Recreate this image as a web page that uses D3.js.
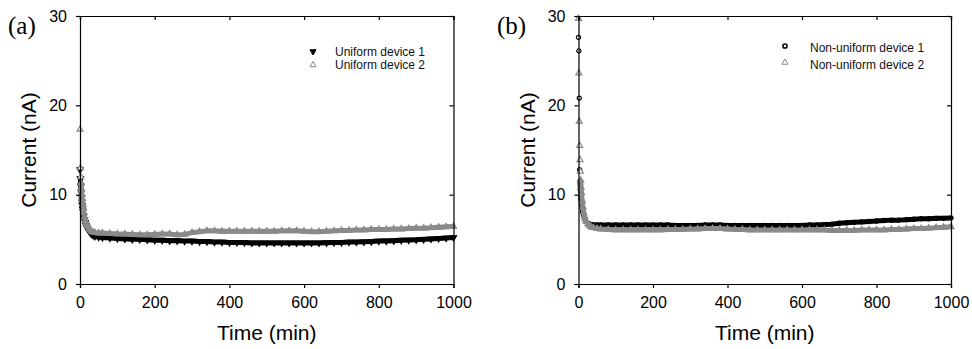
<!DOCTYPE html>
<html>
<head>
<meta charset="utf-8">
<script src="https://cdn.jsdelivr.net/npm/d3@7"></script>
<style>
  body { margin: 0; background: #fff; }
  svg { display: block; }
  text { font-family: "Liberation Sans", Arial, sans-serif; }
  .tick text { font-size: 16px; fill: #000; }
  .axisText { font-size: 21px; fill: #000; }
  text.panelText { font-family: "Liberation Serif", "Times New Roman", serif; font-size: 25px; }
  .legend-texts { font-size: 12px; fill: #111; }
</style>
</head>
<body>
<div id="svg-container"></div>
<script>
// data
const times = [0, 1, 2, 3, 4, 5, 6, 7, 8, 10, 12, 14, 16, 18, 20, 25, 30, 35, 40, 50, 60, 80,
  100, 120, 140, 160, 180, 200, 220, 240, 260, 280, 300, 320, 340, 360, 380, 400, 420, 440,
  460, 480, 500, 520, 540, 560, 580, 600, 620, 640, 660, 680, 700, 720, 740, 760, 780, 800,
  820, 840, 860, 880, 900, 920, 940, 960, 980, 1000];

const uniform1 = [12.8, 11.8, 11.0, 10.3, 9.7, 9.2, 8.8, 8.4, 8.1, 7.6, 7.2, 6.9, 6.6, 6.4, 6.2, 5.9, 5.6, 5.45, 5.35, 5.25, 5.2, 5.15,
  5.1, 5.05, 5.0, 5.0, 4.95, 4.9, 4.9, 4.85, 4.85, 4.8, 4.8, 4.75, 4.75, 4.7, 4.7, 4.65, 4.65, 4.65,
  4.6, 4.6, 4.6, 4.6, 4.6, 4.6, 4.6, 4.6, 4.6, 4.6, 4.62, 4.65, 4.65, 4.7, 4.7, 4.72, 4.75, 4.8,
  4.82, 4.85, 4.9, 4.92, 4.95, 5.0, 5.05, 5.1, 5.15, 5.2];

const uniform2 = [17.3, 13.0, 12.0, 11.3, 10.6, 10.0, 9.5, 9.0, 8.6, 8.0, 7.5, 7.1, 6.8, 6.6, 6.4, 6.1, 5.9, 5.8, 5.75, 5.7, 5.7, 5.65,
  5.6, 5.6, 5.55, 5.5, 5.5, 5.55, 5.6, 5.6, 5.5, 5.55, 5.75, 5.85, 5.95, 5.95, 5.9, 5.9, 5.9, 5.9,
  5.9, 5.9, 5.9, 5.9, 5.95, 5.95, 5.95, 5.9, 5.85, 5.85, 5.9, 5.95, 6.0, 6.0, 6.05, 6.05, 6.1, 6.1,
  6.1, 6.15, 6.15, 6.2, 6.25, 6.25, 6.3, 6.35, 6.4, 6.45];

const nonUniform1 = [27.6, 26.1, 20.8, 12.8, 11.5, 10.6, 10.0, 9.5, 9.1, 8.5, 8.0, 7.7, 7.4, 7.2, 7.0, 6.8, 6.7, 6.65, 6.6, 6.6, 6.6, 6.6,
  6.6, 6.6, 6.6, 6.6, 6.6, 6.6, 6.6, 6.6, 6.55, 6.55, 6.55, 6.55, 6.6, 6.6, 6.6, 6.55, 6.55, 6.55,
  6.55, 6.55, 6.55, 6.55, 6.55, 6.55, 6.55, 6.55, 6.6, 6.6, 6.65, 6.7, 6.8, 6.85, 6.9, 6.95, 7.0, 7.05,
  7.1, 7.15, 7.15, 7.2, 7.25, 7.3, 7.3, 7.35, 7.35, 7.4];

const nonUniform2 = [29.7, 23.6, 18.2, 15.5, 13.9, 12.6, 11.6, 10.8, 10.2, 9.3, 8.6, 8.0, 7.6, 7.3, 7.0, 6.7, 6.5, 6.35, 6.3, 6.2, 6.15, 6.1,
  6.05, 6.05, 6.05, 6.05, 6.05, 6.05, 6.05, 6.1, 6.1, 6.1, 6.15, 6.15, 6.2, 6.2, 6.2, 6.15, 6.1, 6.1,
  6.05, 6.05, 6.05, 6.05, 6.05, 6.05, 6.05, 6.05, 6.05, 6.05, 6.05, 6.0, 6.0, 6.0, 6.0, 6.05, 6.05, 6.05,
  6.05, 6.1, 6.1, 6.15, 6.2, 6.2, 6.25, 6.3, 6.35, 6.4];

const xTicks = [0, 200, 400, 600, 800, 1000];
const yTicks = [0, 10, 20, 30];

////////////////////////////////////////////////////////////////////
////////////////////////////  Init  ///////////////////////////////
const width = 972;
const height = 349;

// sparse early points stay as single markers; the dense band starts below this
const bandFrom = 12;

const svg = d3.select("#svg-container").append("svg")
  .attr("width", width).attr("height", height);

const panels = [
  {
    label: "(a)", left: 80, right: 453.5, labelX: 8,
    legendX: 313, legendTextX: 335, legendY: [51.5, 65], legendDy: 4,
    series: [
      { name: "Uniform device 1", values: uniform1, color: "#000", symbol: "down" },
      { name: "Uniform device 2", values: uniform2, color: "#8a8a8a", symbol: "up" }
    ]
  },
  {
    label: "(b)", left: 578.5, right: 951, labelX: 497,
    legendX: 785, legendTextX: 810, legendY: [46, 62.5], legendDy: 6,
    series: [
      { name: "Non-uniform device 1", values: nonUniform1, color: "#000", symbol: "circle" },
      { name: "Non-uniform device 2", values: nonUniform2, color: "#8a8a8a", symbol: "up" }
    ]
  }
];

const plotTop = 16;
const plotBottom = 284;

function markerPath(type) {
  if (type === "circle") return d3.symbol().type(d3.symbolCircle).size(14)();
  return d3.symbol().type(d3.symbolTriangle).size(16)();
}

panels.forEach((p) => {
  const xScale = d3.scaleLinear().domain([0, 1000]).range([p.left, p.right]);
  const yScale = d3.scaleLinear().domain([0, 30]).range([plotBottom, plotTop]);

  const g = svg.append("g");

  // series: thick band + markers
  p.series.forEach((s) => {
    const pts = times.map((t, i) => ({ t: t, v: s.values[i] }));

    g.append("path")
      .datum(pts.filter((d) => d.v < bandFrom))
      .attr("d", d3.line().x((d) => xScale(d.t)).y((d) => yScale(d.v)))
      .attr("fill", "none")
      .attr("stroke", s.color)
      .attr("stroke-width", 5)
      .attr("stroke-linejoin", "round");

    g.selectAll(null)
      .data(pts)
      .enter()
      .append("path")
      .attr("d", markerPath(s.symbol))
      .attr("transform", (d) =>
        `translate(${xScale(d.t)},${yScale(d.v)})` + (s.symbol === "down" ? " rotate(180)" : ""))
      .attr("fill", (d) => (s.symbol === "down" || d.v < bandFrom) ? s.color : "#fff")
      .attr("stroke", s.color)
      .attr("stroke-width", 1.2);
  });

  // axes
  const axes = [
    g.append("g")
      .attr("transform", `translate(0, ${plotBottom})`)
      .call(d3.axisBottom(xScale).tickValues(xTicks).tickSize(4).tickPadding(9).tickFormat(d3.format("d"))),
    g.append("g")
      .attr("transform", `translate(${p.left}, 0)`)
      .call(d3.axisLeft(yScale).tickValues(yTicks).tickSize(4).tickPadding(9)),
    g.append("g")
      .attr("transform", `translate(0, ${plotTop})`)
      .call(d3.axisTop(xScale).tickValues(xTicks).tickSize(-4).tickFormat("")),
    g.append("g")
      .attr("transform", `translate(${p.right}, 0)`)
      .call(d3.axisRight(yScale).tickValues(yTicks).tickSize(-4).tickFormat(""))
  ];
  axes.forEach((a) => a.attr("font-family", null).attr("font-size", null));

  g.selectAll(".domain").attr("stroke", "#000").attr("stroke-width", 1.2);
  g.selectAll(".tick line").attr("stroke", "#000").attr("stroke-width", 1.2);

  // axis titles
  g.append("text")
    .attr("class", "axisText")
    .attr("x", (p.left + p.right) / 2)
    .attr("y", 340)
    .attr("text-anchor", "middle")
    .text("Time (min)");

  g.append("text")
    .attr("class", "axisText")
    .attr("transform", `translate(${p.left - 44}, ${(plotTop + plotBottom) / 2}) rotate(-90)`)
    .attr("text-anchor", "middle")
    .text("Current (nA)");

  // panel label
  g.append("text")
    .attr("class", "panelText")
    .attr("x", p.labelX)
    .attr("y", 34)
    .text(p.label);

  // legend
  p.series.forEach((s, i) => {
    g.append("path")
      .attr("d", markerPath(s.symbol))
      .attr("transform", `translate(${p.legendX},${p.legendY[i]})` + (s.symbol === "down" ? " rotate(180)" : ""))
      .attr("fill", s.symbol === "down" ? s.color : "#fff")
      .attr("stroke", s.color)
      .attr("stroke-width", s.symbol === "circle" ? 1.5 : 1);
    g.append("text")
      .attr("class", "legend-texts")
      .attr("x", p.legendTextX)
      .attr("y", p.legendY[i] + p.legendDy)
      .text(s.name);
  });
});
</script>
</body>
</html>
